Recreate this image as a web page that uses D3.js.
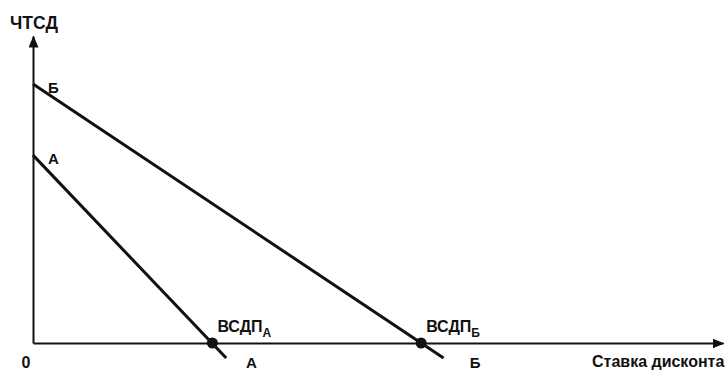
<!DOCTYPE html>
<html>
<head>
<meta charset="utf-8">
<script src="https://cdn.jsdelivr.net/npm/d3@7"></script>
<style>
    html, body { margin: 0; padding: 0; background: #fff; }
    svg { display: block; }
    text { font-family: "Liberation Sans", Arial, sans-serif; fill: #111; }
</style>
</head>
<body>
<svg class="npv-chart" width="728" height="371"></svg>
<script>
// projects and read-off values (rate in %, NPV in relative units)
const projects = ["А", "Б"];
const npvAtZero = [61.2, 84.4];
const irr = [10.4, 22.5];
const endRate = [11.2, 23.8];
const npvAtEnd = [-4.9, -4.9];

const yTitle = "ЧТСД";
const xTitle = "Ставка дисконта";
const irrLabel = "ВСДП";
const originLabel = "0";

const width = 728, height = 371;
const svg = d3.select('.npv-chart');

const x = d3.scaleLinear().domain([0, 40]).range([33, 723]);
const y = d3.scaleLinear().domain([0, 100]).range([343, 36]);

svg.append("defs").append("marker")
    .attr("id", "arrow")
    .attr("viewBox", "0 -5 12 10")
    .attr("refX", 11)
    .attr("refY", 0)
    .attr("markerWidth", 12)
    .attr("markerHeight", 10)
    .attr("markerUnits", "userSpaceOnUse")
    .attr("orient", "auto")
    .append("path")
    .attr("fill", "#111")
    .attr("d", "M0,-5L12,0L0,5Z");

// axes: only the domain lines, no ticks
const xAxis = svg.append("g")
    .attr("transform", `translate(0,${y(0)})`)
    .call(d3.axisBottom(x).tickValues([]).tickSizeOuter(0));
const yAxis = svg.append("g")
    .attr("transform", `translate(${x(0)},0)`)
    .call(d3.axisLeft(y).tickValues([]).tickSizeOuter(0));

for (const g of [xAxis, yAxis]) {
    g.select(".domain")
        .attr("stroke", "#111")
        .attr("stroke-width", 2)
        .attr("marker-end", "url(#arrow)");
}

const rows = projects.map((name, i) => ({
    name: name,
    npv0: npvAtZero[i],
    irr: irr[i],
    endRate: endRate[i],
    npvEnd: npvAtEnd[i]
}));

// NPV lines
svg.append("g").selectAll("line")
    .data(rows)
    .join("line")
    .attr("x1", d => x(0))
    .attr("y1", d => y(d.npv0))
    .attr("x2", d => x(d.endRate))
    .attr("y2", d => y(d.npvEnd))
    .attr("stroke", "#111")
    .attr("stroke-width", 3);

// IRR dots
svg.append("g").selectAll("circle")
    .data(rows)
    .join("circle")
    .attr("cx", d => x(d.irr))
    .attr("cy", y(0))
    .attr("r", 5.5)
    .attr("fill", "#111");

const fontSize = 16;

// names at the start of each line
svg.append("g").selectAll("text")
    .data(rows)
    .join("text")
    .attr("x", d => x(0) + 15)
    .attr("y", d => y(d.npv0) + 9)
    .attr("font-size", 15)
    .attr("font-weight", "bold")
    .text(d => d.name);

// ВСДП labels
const irrLabels = svg.append("g").selectAll("text")
    .data(rows)
    .join("text")
    .attr("x", d => x(d.irr) + 5)
    .attr("y", y(0) - 11)
    .attr("font-size", fontSize)
    .attr("font-weight", "bold");
irrLabels.append("tspan").text(irrLabel);
irrLabels.append("tspan")
    .attr("font-size", 12)
    .attr("dy", 5)
    .text(d => d.name);

// names under the line ends
const endOffsets = [39, 54];
svg.append("g").selectAll("text")
    .data(rows)
    .join("text")
    .attr("x", (d, i) => x(d.irr) + endOffsets[i])
    .attr("y", 368)
    .attr("font-size", 15)
    .attr("font-weight", "bold")
    .attr("text-anchor", "middle")
    .text(d => d.name);

svg.append("text")
    .attr("x", 10)
    .attr("y", 29)
    .attr("font-size", 17.5)
    .attr("font-weight", "bold")
    .text(yTitle);

svg.append("text")
    .attr("x", 26)
    .attr("y", 368)
    .attr("font-size", fontSize)
    .attr("font-weight", "bold")
    .attr("text-anchor", "middle")
    .text(originLabel);

svg.append("text")
    .attr("x", 592)
    .attr("y", 367)
    .attr("font-size", fontSize)
    .attr("font-weight", "bold")
    .text(xTitle);
</script>
</body>
</html>
